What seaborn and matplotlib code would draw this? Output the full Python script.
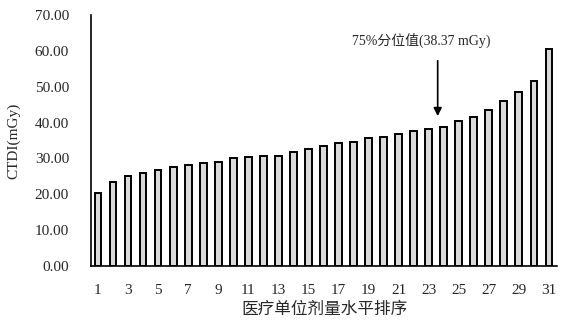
import numpy as np
import pandas as pd
import matplotlib
matplotlib.use("Agg")
import matplotlib.pyplot as plt
import seaborn as sns

# 数据
ranks = list(range(1, 32))
ctdi = [20.4, 23.4, 25.2, 25.9, 26.9, 27.6, 28.2, 28.8, 29.0, 30.0,
        30.3, 30.6, 30.8, 31.9, 32.5, 33.5, 34.2, 34.7, 35.6, 36.0,
        36.8, 37.5, 38.1, 38.7, 40.4, 41.6, 43.5, 46.0, 48.4, 51.6, 60.5]
y_ticks = [0, 10, 20, 30, 40, 50, 60, 70]
p75_label = "75%分位值(38.37 mGy)"

sns.set_theme(style="white")
plt.rcParams['font.family'] = ['Liberation Serif', 'Noto Sans CJK SC', 'DejaVu Sans']
plt.rcParams['axes.unicode_minus'] = False

df = pd.DataFrame({"rank": ranks, "ctdi": ctdi})

fig = plt.figure(figsize=(5.7, 3.24), dpi=100)
ax = fig.add_axes([0.160, 0.179, 0.817, 0.775])

sns.barplot(data=df, x="rank", y="ctdi", color="#d9d9d9", saturation=1,
            edgecolor="black", linewidth=1.4, width=0.45, ax=ax)

ax.set_xlim(-0.45, 30.53)
ax.set_ylim(0, 70)
ax.set_yticks(y_ticks)
ax.set_yticklabels([f"{v:.2f}" for v in y_ticks], fontsize=11)

# x 轴只标奇数序号
ax.set_xticks(range(0, 31, 2))
ax.set_xticklabels([str(r) for r in ranks[::2]], fontsize=11)
ax.set_xticks(np.arange(0.5, 30.5, 1), minor=True)
ax.tick_params(axis="x", which="major", length=0, pad=13)
ax.tick_params(axis="x", which="minor", direction="in", length=2.5, width=0.8, color="black")
ax.tick_params(axis="y", direction="out", length=3, width=1, color="black", pad=13)

for s in ["top", "right"]:
    ax.spines[s].set_visible(False)
for s in ["left", "bottom"]:
    ax.spines[s].set_color("black")
    ax.spines[s].set_linewidth(1.2)

ax.set_xlabel("医疗单位剂量水平排序", fontsize=12, family=['Noto Sans CJK SC'], labelpad=3)
ax.set_ylabel("CTDI(mGy)", fontsize=11, labelpad=10)

# 75%分位值标注
ax.annotate("", xy=(22.6, 41.0), xytext=(22.6, 58.0),
            arrowprops=dict(arrowstyle="-|>", color="black", lw=1.2, mutation_scale=12))
ax.text(21.5, 62.8, p75_label, ha="center", va="center", fontsize=10,
        family=['Liberation Serif', 'Noto Sans CJK SC'])

plt.savefig("out.png", dpi=100)
plt.close()
